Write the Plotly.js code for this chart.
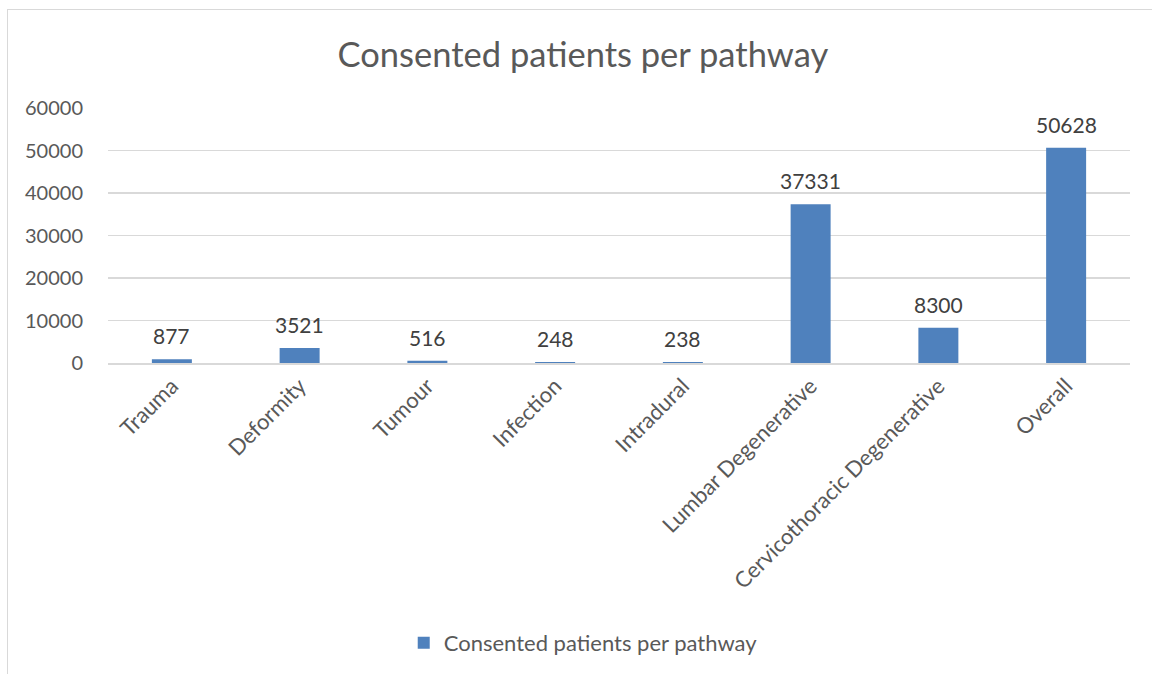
<!DOCTYPE html>
<html><head><meta charset="utf-8">
<script src="https://cdn.plot.ly/plotly-3.0.1.min.js"></script>
<style>
body{margin:0;padding:0;background:#fff;}
#wrap{position:relative;width:1152px;height:674px;overflow:hidden;}
#chart{position:absolute;left:0;top:0;width:1152px;height:674px;}
#frame{position:absolute;left:7px;top:9px;width:1160px;height:700px;border:1px solid #d9d9d9;box-sizing:border-box;pointer-events:none;}
</style></head>
<body><div id="wrap"><div id="chart"></div><div id="frame"></div></div>
<script>
const categories = ["Trauma","Deformity","Tumour","Infection","Intradural","Lumbar Degenerative","Cervicothoracic Degenerative","Overall"];
const values = [877,3521,516,248,238,37331,8300,50628];
const seriesName = "Consented patients per pathway";
const yTicks = [0,10000,20000,30000,40000,50000,60000];

const font = "Lato, 'Open Sans', sans-serif";
const annotations = categories.map((c,i)=>({
  x:c, y:values[i], xref:'x', yref:'y', text:String(values[i]), showarrow:false,
  yanchor:'bottom', yshift:9, font:{family:font,size:21,color:'#404040'}
}));
Plotly.newPlot('chart', [{
  type:'bar', x:categories, y:values, name:seriesName,
  marker:{color:'#4F81BD'},
  showlegend:true
}], {
  width:1152, height:674,
  margin:{l:108,r:22,t:108,b:310},
  paper_bgcolor:'rgba(0,0,0,0)', plot_bgcolor:'#fff',
  title:{text:'Consented patients per pathway', font:{family:font,size:34.5,color:'#595959'}, x:0.506, xanchor:'center', y:0.918, yanchor:'middle'},
  bargap:0.687,
  annotations:annotations,
  xaxis:{type:'category', tickangle:-45, tickfont:{family:font,size:22,color:'#595959'}, showgrid:false, showline:true, linecolor:'#d9d9d9', linewidth:1.5, ticks:'', ticklen:0},
  yaxis:{range:[0,60000], tickvals:yTicks, ticktext:yTicks.map(String), tickfont:{family:font,size:20,color:'#595959'}, gridcolor:'#d9d9d9', gridwidth:1.5, zeroline:false, showline:false, ticks:'', ticklabelstandoff:24},
  showlegend:true,
  legend:{orientation:'h', x:0.465, xanchor:'center', y:-1.09, yanchor:'middle', font:{family:font,size:22,color:'#595959'}}
}, {displayModeBar:false, staticPlot:true});
</script></body></html>
